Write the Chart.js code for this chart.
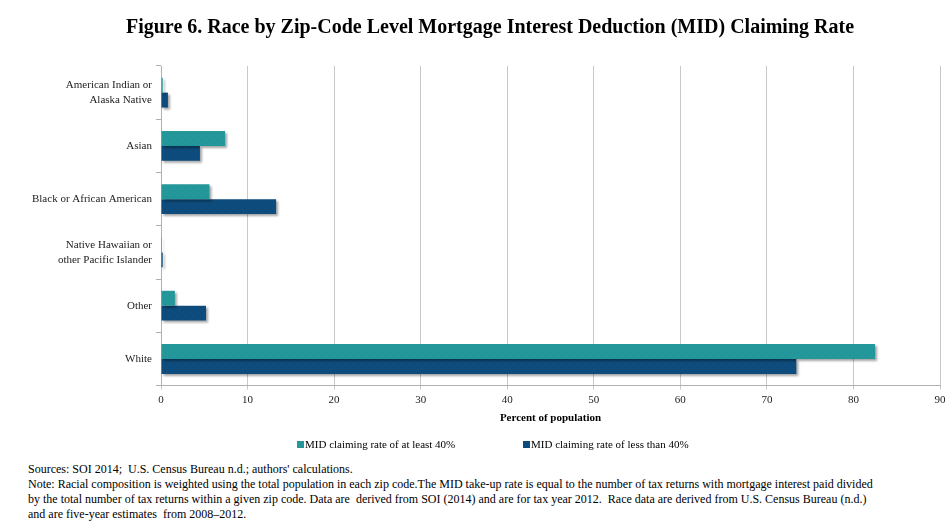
<!DOCTYPE html>
<html>
<head>
<meta charset="utf-8">
<script src="https://cdn.jsdelivr.net/npm/chart.js@4.4.0/dist/chart.umd.min.js"></script>
<style>
  html, body { margin: 0; padding: 0; background: #fff; }
  #wrap { position: relative; width: 950px; height: 529px; overflow: hidden; font-family: "Liberation Serif", "Times New Roman", serif; color: #000; }
  #title { position: absolute; left: 0; width: 980px; top: 15px; text-align: center; font-weight: bold; font-size: 20px; }
  #chartBox { position: absolute; left: 0; top: 0; width: 950px; height: 440px; }
  #legend { position: absolute; top: 438px; left: 0; width: 950px; font-size: 11px; }
  #legend span.item { position: absolute; white-space: nowrap; }
  #legend i { display: inline-block; width: 7px; height: 7px; margin-right: 1px; vertical-align: 0px; }
  #notes { position: absolute; left: 28px; top: 462px; font-size: 12px; line-height: 15px; white-space: nowrap; }
</style>
</head>
<body>
<div id="wrap">
  <div id="chartBox"><canvas id="raceChart"></canvas></div>
  <div id="title">Figure 6. Race by Zip-Code Level Mortgage Interest Deduction (MID) Claiming Rate</div>
  <div id="legend"></div>
  <div id="notes">
    Sources: SOI 2014; &nbsp;U.S. Census Bureau n.d.; authors' calculations.<br>
    Note: Racial composition is weighted using the total population in each zip code.The MID take-up rate is equal to the number of tax returns with mortgage interest paid divided<br>
    by the total number of tax returns within a given zip code. Data are &nbsp;derived from SOI (2014) and are for tax year 2012. &nbsp;Race data are derived from U.S. Census Bureau (n.d.)<br>
    and are five-year estimates &nbsp;from 2008&ndash;2012.
  </div>
</div>
<script>
  // chart data
  var categories = [
    ["American Indian or", "Alaska Native"],
    "Asian",
    "Black or African American",
    ["Native Hawaiian or", "other Pacific Islander"],
    "Other",
    "White"
  ];
  var seriesNames = ["MID claiming rate of at least 40%", "MID claiming rate of less than 40%"];
  var atLeast40 = [0.2, 7.4, 5.6, 0.02, 1.6, 82.5];
  var lessThan40 = [0.8, 4.5, 13.3, 0.2, 5.2, 73.4];
  var xTicks = [0, 10, 20, 30, 40, 50, 60, 70, 80, 90];

  var tealColor = '#24979b';
  var navyColor = '#0d4c7c';

  // small dotted fill like the original bars
  function dotPattern(base, dot) {
    var c = document.createElement('canvas');
    c.width = 8; c.height = 6;
    var g = c.getContext('2d');
    g.fillStyle = base;
    g.fillRect(0, 0, 8, 6);
    g.fillStyle = dot;
    g.fillRect(1, 1, 1, 1);
    g.fillRect(5, 4, 1, 1);
    return g.createPattern(c, 'repeat');
  }

  // soft shadow under the bars
  var barShadow = {
    id: 'barShadow',
    beforeDatasetsDraw: function(chart) {
      var ctx = chart.ctx;
      ctx.save();
      ctx.shadowColor = 'rgba(0,0,0,0.35)';
      ctx.shadowOffsetX = 2;
      ctx.shadowOffsetY = 2;
      ctx.shadowBlur = 2;
    },
    afterDatasetsDraw: function(chart) {
      chart.ctx.restore();
    }
  };

  var ctx = document.getElementById('raceChart').getContext('2d');
  var chart = new Chart(ctx, {
    type: 'bar',
    data: {
      labels: categories,
      datasets: [{
          label: seriesNames[0],
          backgroundColor: dotPattern(tealColor, '#1f8a8e'),
          data: atLeast40,
          categoryPercentage: 0.56,
          barPercentage: 1.0
        },
        {
          label: seriesNames[1],
          backgroundColor: dotPattern(navyColor, '#1a2f9a'),
          data: lessThan40,
          categoryPercentage: 0.56,
          barPercentage: 1.0
        }
      ]
    },
    options: {
      indexAxis: 'y',
      responsive: true,
      maintainAspectRatio: false,
      animation: false,
      layout: {
        padding: { top: 66, right: 10, bottom: 11, left: 0 }
      },
      plugins: {
        legend: { display: false },
        tooltip: { enabled: false }
      },
      scales: {
        x: {
          min: 0,
          max: 90,
          afterBuildTicks: function(scale) {
            scale.ticks = xTicks.map(function(v) { return { value: v }; });
          },
          grid: {
            color: '#c8c8c8',
            tickLength: 4,
            drawTicks: true
          },
          border: { color: '#b0b0b0' },
          ticks: {
            color: '#222',
            padding: 4,
            font: { family: '"Liberation Serif", serif', size: 11 }
          },
          title: {
            display: true,
            text: 'Percent of population',
            color: '#000',
            padding: { top: 1, bottom: 4 },
            font: { family: '"Liberation Serif", serif', size: 11, weight: 'bold' }
          }
        },
        y: {
          afterFit: function(scale) { scale.width = 161; },
          grid: {
            display: true,
            drawOnChartArea: false,
            offset: true,
            tickLength: 5,
            color: '#b0b0b0'
          },
          border: { color: '#b0b0b0' },
          ticks: {
            color: '#222',
            padding: 4,
            font: { family: '"Liberation Serif", serif', size: 11, lineHeight: 1.36 }
          }
        }
      }
    },
    plugins: [barShadow]
  });

  // legend drawn from the datasets
  var legendBox = document.getElementById('legend');
  var legendX = [297, 523];
  chart.data.datasets.forEach(function(ds, i) {
    var item = document.createElement('span');
    item.className = 'item';
    item.style.left = legendX[i] + 'px';
    item.innerHTML = '<i style="background:' + (i === 0 ? tealColor : navyColor) + '"></i>' + ds.label;
    legendBox.appendChild(item);
  });
</script>
</body>
</html>
